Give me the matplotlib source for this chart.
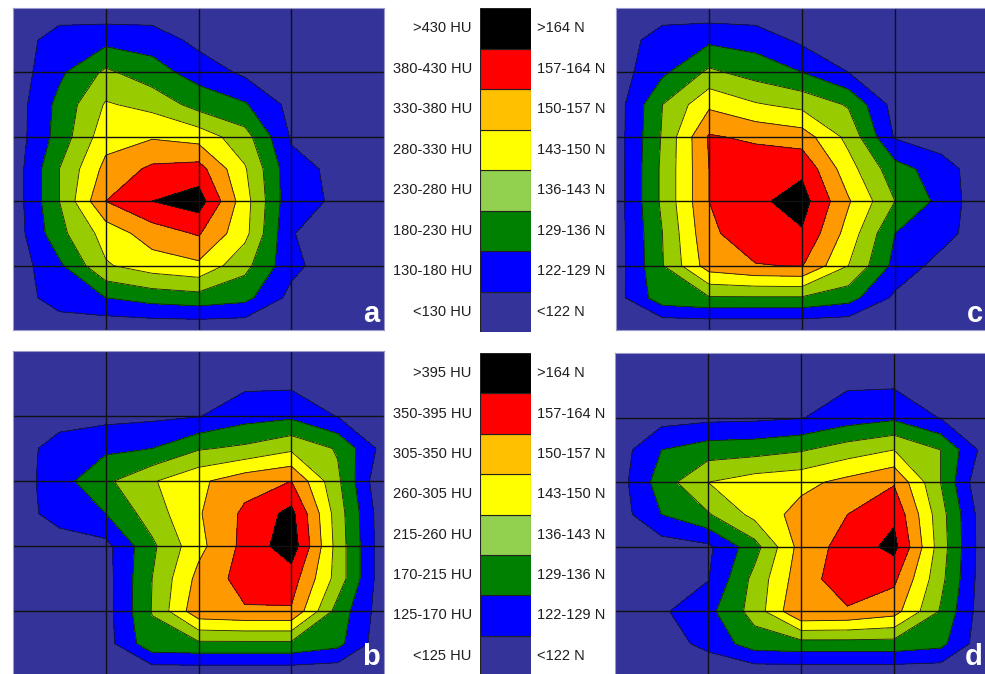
import numpy as np
import matplotlib
matplotlib.use('Agg')
import matplotlib.pyplot as plt

# band scale: 0 = lowest class (<130 HU / <122 N) ... 7 = highest class
# rows top -> bottom, columns left -> right, nodes every half grid cell
panel_a = [
    [0.3, 0.3, 0.3, 0.3, 0.3, 0.3, 0.3, 0.3, 0.3],
    [0.3, 1.6, 1.7, 1.6, 0.7, 0.3, 0.3, 0.3, 0.3],
    [0.4, 1.8, 3.2, 2.4, 1.6, 0.8, 0.3, 0.3, 0.3],
    [0.4, 2.3, 4.1, 3.7, 2.6, 2.1, 0.7, 0.3, 0.3],
    [0.4, 2.4, 4.6, 4.9, 4.6, 3.4, 0.9, 0.3, 0.3],
    [0.4, 3.0, 5.3, 6.2, 6.4, 4.1, 1.3, 0.8, 0.3],
    [0.4, 3.0, 6.0, 7.0, 7.5, 4.4, 1.25, 0.9, 0.3],
    [0.4, 2.7, 4.4, 5.5, 6.1, 4.3, 1.05, 0.5, 0.3],
    [0.4, 1.8, 3.9, 4.5, 4.8, 3.3, 1.3, 0.3, 0.3],
    [0.3, 1.6, 2.0, 2.4, 2.6, 2.3, 0.7, 0.3, 0.3],
    [0.2, 0.2, 0.2, 0.2, 0.2, 0.2, 0.2, 0.2, 0.2],
]

panel_c = [
    [0.3, 0.3, 0.3, 0.3, 0.3, 0.3, 0.3, 0.3, 0.3],
    [0.3, 1.6, 1.8, 1.6, 0.8, 0.3, 0.3, 0.3, 0.3],
    [0.5, 1.8, 3.2, 2.6, 2.0, 1.0, 0.3, 0.3, 0.3],
    [0.5, 3.0, 4.8, 4.1, 3.7, 2.9, 0.6, 0.3, 0.3],
    [0.5, 3.1, 6.1, 5.8, 5.5, 3.7, 0.9, 0.4, 0.3],
    [0.5, 3.2, 6.0, 6.7, 6.8, 4.4, 2.4, 1.5, 0.2],
    [0.5, 3.2, 6.0, 6.8, 7.4, 5.1, 3.0, 1.7, 0.1],
    [0.5, 3.0, 5.8, 6.6, 6.9, 4.6, 2.0, 1.4, 0.3],
    [0.5, 2.95, 5.5, 5.95, 6.05, 4.0, 1.7, 0.6, 0.3],
    [0.6, 2.6, 2.9, 2.9, 2.9, 2.4, 0.8, 0.3, 0.3],
    [0.0, 0.0, 0.0, 0.0, 0.0, 0.0, 0.0, 0.0, 0.0],
]

panel_b = [
    [0.2, 0.2, 0.2, 0.2, 0.2, 0.2, 0.2, 0.2, 0.2],
    [0.3, 0.3, 0.3, 0.3, 0.3, 0.8, 0.8, 0.4, 0.2],
    [0.3, 0.5, 0.7, 0.8, 0.95, 1.6, 1.8, 0.95, 0.3],
    [0.4, 1.5, 1.8, 2.0, 2.9, 3.2, 3.8, 2.9, 0.6],
    [0.4, 1.6, 2.8, 3.9, 4.8, 5.6, 6.0, 3.2, 0.0],
    [0.5, 1.4, 2.0, 3.5, 4.9, 6.2, 7.3, 3.5, 0.3],
    [0.3, 0.5, 0.7, 2.8, 4.7, 6.3, 7.6, 3.6, 0.3],
    [0.3, 0.3, 0.6, 3.0, 5.3, 6.4, 6.5, 3.6, 0.3],
    [0.3, 0.3, 0.6, 3.05, 5.7, 5.9, 5.9, 2.6, 0.4],
    [0.3, 0.3, 0.6, 2.7, 2.8, 2.8, 2.8, 2.3, 0.3],
    [0.1, 0.1, 0.1, 0.1, 0.1, 0.1, 0.1, 0.1, 0.1],
]

panel_d = [
    [0.2, 0.2, 0.2, 0.2, 0.2, 0.2, 0.2, 0.2, 0.2],
    [0.3, 0.3, 0.3, 0.3, 0.4, 0.9, 0.9, 0.7, 0.3],
    [0.3, 0.6, 0.75, 0.8, 0.95, 1.5, 1.8, 0.95, 0.3],
    [0.4, 2.0, 2.5, 2.6, 2.9, 3.5, 4.0, 3.0, 0.5],
    [0.4, 2.5, 4.0, 4.5, 4.7, 5.3, 5.9, 3.0, -0.2],
    [0.4, 2.0, 2.9, 4.3, 5.4, 6.0, 6.8, 3.4, 0.2],
    [0.3, 0.5, 0.8, 2.6, 5.4, 6.4, 7.3, 3.5, 0.2],
    [0.3, 0.8, 0.95, 3.3, 5.6, 6.5, 6.2, 3.3, 0.2],
    [0.3, 0.85, 1.7, 3.4, 6.0, 5.9, 5.4, 2.9, 0.2],
    [0.3, 0.5, 1.3, 2.5, 2.6, 2.6, 2.6, 2.3, 0.2],
    [0.1, 0.1, 0.1, 0.1, 0.1, 0.1, 0.1, 0.1, 0.1],
]

hu_top = ['<130 HU', '130-180 HU', '180-230 HU', '230-280 HU',
          '280-330 HU', '330-380 HU', '380-430 HU', '>430 HU']
hu_bottom = ['<125 HU', '125-170 HU', '170-215 HU', '215-260 HU',
             '260-305 HU', '305-350 HU', '350-395 HU', '>395 HU']
newton = ['<122 N', '122-129 N', '129-136 N', '136-143 N',
          '143-150 N', '150-157 N', '157-164 N', '>164 N']

band_colors = ['#333399', '#0000ff', '#008000', '#99cc00',
               '#ffff00', '#ff9900', '#ff0000', '#000000']
key_colors = ['#333399', '#0000ff', '#008000', '#92d050',
              '#ffff00', '#ffc000', '#ff0000', '#000000']

W, H = 985, 674


def px_axes(fig, x0, y0, x1, y1):
    '''
    Add axes from pixel box (top-left origin)
    '''
    return fig.add_axes([x0 / W, (H - y1) / H, (x1 - x0) / W, (y1 - y0) / H])


def draw_panel(ax, grid, letter, letter_y):
    z = np.array(grid)
    xs = np.arange(z.shape[1]) * 0.5
    ys = np.arange(z.shape[0]) * 0.5
    levels = [-5, 1, 2, 3, 4, 5, 6, 7, 20]
    ax.contourf(xs, ys, z, levels=levels, colors=band_colors)
    ax.contour(xs, ys, z, levels=levels[1:-1], colors='#1a1a1a', linewidths=0.6)
    for v in [1, 2, 3]:
        ax.axvline(v, color='#111111', lw=1.0)
    for v in [1, 2, 3, 4]:
        ax.axhline(v, color='#111111', lw=1.0)
    ax.set_xlim(0, 4)
    ax.set_ylim(5, 0)
    ax.set_xticks([])
    ax.set_yticks([])
    for s in ax.spines.values():
        s.set_color('#9999cc')
        s.set_linewidth(0.8)
    ax.text(3.95, letter_y, letter, color='white', fontsize=21, fontweight='bold',
            family='Liberation Sans', ha='right', va='bottom')


def draw_key(fig, y0, y1, left_labels, right_labels):
    ax = px_axes(fig, 480, y0, 531, y1)
    for i, c in enumerate(key_colors):
        ax.add_patch(plt.Rectangle((0, i), 1, 1, facecolor=c,
                                   edgecolor='#222222', lw=0.8))
    ax.set_xlim(0, 1)
    ax.set_ylim(0, 8)
    ax.axis('off')
    for i in range(8):
        ax.text(-0.16, i + 0.5, left_labels[i], ha='right', va='center',
                fontsize=10.5, color='#1e1e1e', family='Liberation Sans',
                clip_on=False)
        ax.text(1.12, i + 0.5, right_labels[i], ha='left', va='center',
                fontsize=10.5, color='#1e1e1e', family='Liberation Sans',
                clip_on=False)


fig = plt.figure(figsize=(W / 100, H / 100), dpi=100)

draw_panel(px_axes(fig, 13, 8, 384, 330), panel_a, 'a', 4.97)
draw_panel(px_axes(fig, 616, 8, 988, 330), panel_c, 'c', 4.97)
draw_panel(px_axes(fig, 13, 351, 384, 676), panel_b, 'b', 4.93)
draw_panel(px_axes(fig, 615, 353, 987, 676), panel_d, 'd', 4.93)

draw_key(fig, 8, 332, hu_top, newton)
draw_key(fig, 353, 676, hu_bottom, newton)

fig.savefig('out.png', dpi=100)
